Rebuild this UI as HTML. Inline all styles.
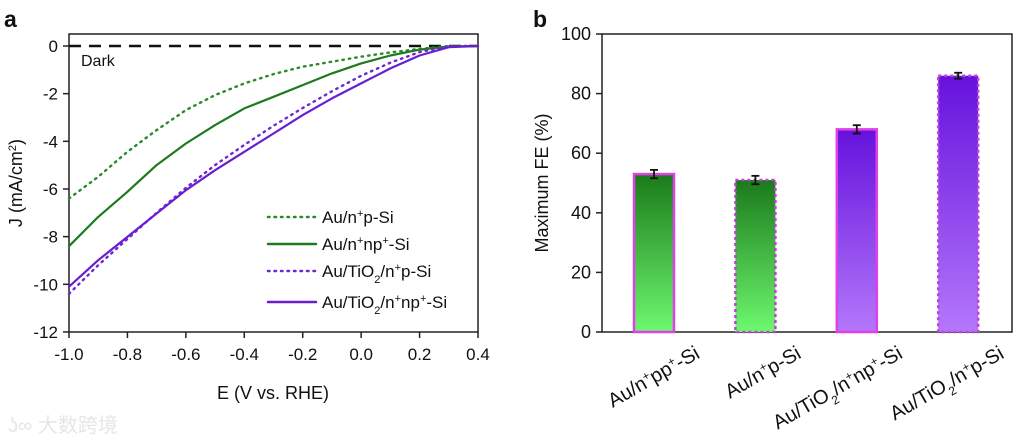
<!DOCTYPE html>
<html><head><meta charset="utf-8"><style>
body{margin:0;background:#fff;width:1031px;height:440px;overflow:hidden}
svg text{font-family:"Liberation Sans","Noto Sans CJK SC",sans-serif;fill:#111}
</style></head><body>
<svg id="chart" width="1031" height="440">
<defs>
<linearGradient id="gGreen" x1="0" y1="0" x2="0" y2="1"><stop offset="0" stop-color="#1a7a1a"/><stop offset="1" stop-color="#6ef86e"/></linearGradient>
<linearGradient id="gPurple" x1="0" y1="0" x2="0" y2="1"><stop offset="0" stop-color="#6512dc"/><stop offset="1" stop-color="#b477fb"/></linearGradient>
</defs>
<g id="panelA"></g>
<g id="panelB"></g>
<text x="8" y="432" font-size="20" style="fill:#e6e6e6">ʖ∞ 大数跨境</text>
</svg>
<script>
const NS='http://www.w3.org/2000/svg';
// ---- Panel A data ----
const eVals=[-1.0,-0.9,-0.8,-0.7,-0.6,-0.5,-0.4,-0.3,-0.2,-0.1,0.0,0.1,0.2,0.3,0.4];
const jGreenDot=[-6.4,-5.49,-4.44,-3.53,-2.69,-2.06,-1.57,-1.18,-0.87,-0.66,-0.45,-0.27,-0.12,0,0];
const jGreenSolid=[-8.4,-7.17,-6.12,-5.0,-4.09,-3.32,-2.62,-2.13,-1.64,-1.15,-0.73,-0.4,-0.15,-0.02,0];
const jPurpleDot=[-10.4,-9.2,-8.1,-7.0,-5.95,-5.0,-4.15,-3.35,-2.6,-1.9,-1.25,-0.7,-0.25,-0.02,0];
const jPurpleSolid=[-10.1,-8.99,-8.01,-7.03,-6.05,-5.21,-4.44,-3.67,-2.9,-2.2,-1.57,-0.94,-0.4,-0.05,0];
const xTicksA=[-1.0,-0.8,-0.6,-0.4,-0.2,0.0,0.2,0.4];
const yTicksA=[0,-2,-4,-6,-8,-10,-12];
const legendLabels=['Au/n<tspan baseline-shift="super" font-size="11">+</tspan>p-Si','Au/n<tspan baseline-shift="super" font-size="11">+</tspan>np<tspan baseline-shift="super" font-size="11">+</tspan>-Si','Au/TiO<tspan baseline-shift="sub" font-size="11">2</tspan>/n<tspan baseline-shift="super" font-size="11">+</tspan>p-Si','Au/TiO<tspan baseline-shift="sub" font-size="11">2</tspan>/n<tspan baseline-shift="super" font-size="11">+</tspan>np<tspan baseline-shift="super" font-size="11">+</tspan>-Si'];
// ---- Panel B data ----
const cats=['Au/n<tspan baseline-shift="super" font-size="12">+</tspan>pp<tspan baseline-shift="super" font-size="12">+</tspan>-Si','Au/n<tspan baseline-shift="super" font-size="12">+</tspan>p-Si','Au/TiO<tspan baseline-shift="sub" font-size="12">2</tspan>/n<tspan baseline-shift="super" font-size="12">+</tspan>np<tspan baseline-shift="super" font-size="12">+</tspan>-Si','Au/TiO<tspan baseline-shift="sub" font-size="12">2</tspan>/n<tspan baseline-shift="super" font-size="12">+</tspan>p-Si'];
const feVals=[53,51,68,86];
const feErr=[1.4,1.4,1.4,1.0];
const yTicksB=[0,20,40,60,80,100];

function el(tag,attrs,parent){const e=document.createElementNS(NS,tag);for(const k in attrs)e.setAttribute(k,attrs[k]);parent.appendChild(e);return e;}
// Panel A
const A=document.getElementById('panelA');
const ax=x=>69+(x+1.0)/1.4*409;
const ay=y=>46-y*23.83;
el('text',{x:4,y:27,'font-size':23,'font-weight':'bold'},A).textContent='a';
let t=el('rect',{x:69,y:34,width:409,height:298,fill:'none',stroke:'#222','stroke-width':1.5},A);

xTicksA.forEach(v=>{el('line',{x1:ax(v),x2:ax(v),y1:332,y2:338,stroke:'#222','stroke-width':1.5},A);
 const tx=el('text',{x:ax(v),y:360,'font-size':17,'text-anchor':'middle'},A);tx.textContent=v.toFixed(1);
 });
yTicksA.forEach(v=>{el('line',{x1:63,x2:69,y1:ay(v),y2:ay(v),stroke:'#222','stroke-width':1.5},A);
 const tx=el('text',{x:58,y:ay(v)+6,'font-size':17,'text-anchor':'end'},A);tx.textContent=String(v);
 });
t=el('text',{x:273,y:399,'font-size':18,'text-anchor':'middle'},A);t.textContent='E (V vs. RHE)';

t=el('text',{transform:'translate(22,183) rotate(-90)','font-size':18,'text-anchor':'middle'},A);
t.innerHTML='J (mA/cm<tspan baseline-shift="super" font-size="11">2</tspan>)';

t=el('line',{x1:69,x2:478,y1:ay(0),y2:ay(0),stroke:'#111','stroke-width':2.5,'stroke-dasharray':'12,8'},A);

t=el('text',{x:81,y:66,'font-size':16},A);t.textContent='Dark';

const series=[[jGreenDot,'#2a8a2a','1.5,5',2.4],[jGreenSolid,'#1e7a1e','',2.2],[jPurpleDot,'#6a2ad0','1.5,5',2.4],[jPurpleSolid,'#6a1ed0','',2.2]];
const names=['curve-au-n-p-si','curve-au-n-np-si','curve-au-tio2-n-p-si','curve-au-tio2-n-np-si'];
series.forEach((s,i)=>{
 const pts=eVals.map((e,k)=>ax(e).toFixed(1)+','+ay(s[0][k]).toFixed(1)).join(' ');
 const p=el('polyline',{points:pts,fill:'none',stroke:s[1],'stroke-width':s[3],'stroke-linecap':'round','stroke-linejoin':'round'},A);
 if(s[2])p.setAttribute('stroke-dasharray',s[2]);
 
 const ly=[217,244,271,302][i];
 const g=el('g',{},A);
 const l=el('line',{x1:268,x2:316,y1:ly,y2:ly,stroke:s[1],'stroke-width':2.5,'stroke-linecap':'round'},g);
 if(s[2])l.setAttribute('stroke-dasharray',s[2]);
 const lt=el('text',{x:322,y:ly+6,'font-size':17},g);lt.innerHTML=legendLabels[i];
});
// Panel B
const B=document.getElementById('panelB');
const by=v=>332-v*2.98;
const bx=i=>654+i*101.4;
el('text',{x:533,y:27,'font-size':23,'font-weight':'bold'},B).textContent='b';
t=el('rect',{x:602,y:34,width:410,height:298,fill:'none',stroke:'#222','stroke-width':1.5},B);

yTicksB.forEach(v=>{el('line',{x1:596,x2:602,y1:by(v),y2:by(v),stroke:'#222','stroke-width':1.5},B);
 const tx=el('text',{x:591,y:by(v)+6,'font-size':18,'text-anchor':'end'},B);tx.textContent=v;
 });
t=el('text',{transform:'translate(548,183) rotate(-90)','font-size':18,'text-anchor':'middle'},B);t.textContent='Maximum FE (%)';

feVals.forEach((v,i)=>{
 const r=el('rect',{x:bx(i)-20,y:by(v),width:40,height:332-by(v),fill:i<2?'url(#gGreen)':'url(#gPurple)',stroke:'#e040e8','stroke-width':2.5},B);
 if(i%2==1){r.setAttribute('stroke-dasharray','3,3');r.setAttribute('stroke','#c040d8');}
 
 const g=el('g',{stroke:'#111','stroke-width':1.8},B);
 const x=bx(i);el('line',{x1:x,x2:x,y1:by(v+feErr[i]),y2:by(v-feErr[i])},g);
 el('line',{x1:x-4,x2:x+4,y1:by(v+feErr[i]),y2:by(v+feErr[i])},g);
 el('line',{x1:x-4,x2:x+4,y1:by(v-feErr[i]),y2:by(v-feErr[i])},g);
 const tx=el('text',{transform:'translate('+(x+47)+',357) rotate(-30)','font-size':20,'text-anchor':'end'},B);tx.innerHTML=cats[i];
 
});
</script>
</body></html>
